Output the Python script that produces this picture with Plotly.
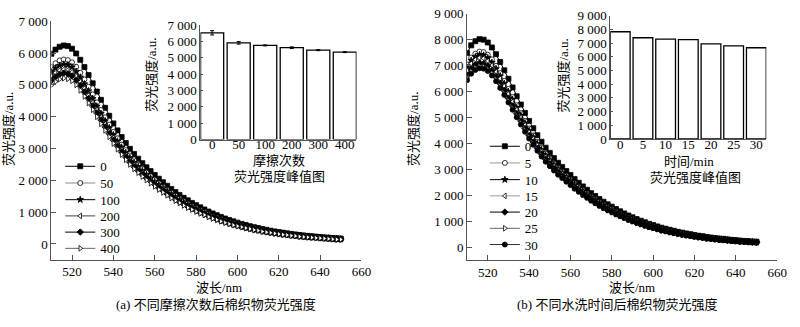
import plotly.graph_objects as go

# ---------------- data ----------------
wavelength = list(range(510, 652, 2))

# (a) rubbing cycles
rub_labels = ["0", "50", "100", "200", "300", "400"]
a_0 = [5980,6110,6200,6240,6220,6140,5990,5790,5560,5310,5050,4790,4530,4280,4030,3790,3570,3360,3170,2990,2830,2680,2540,2410,2290,2170,2050,1940,1830,1730,1630,1540,1450,1370,1290,1220,1150,1085,1020,960,905,850,800,755,710,670,630,595,560,528,498,470,443,418,394,372,352,333,315,298,282,267,253,240,228,217,206,196,187,178,170]
a_50 = [5560,5680,5770,5800,5780,5710,5570,5380,5170,4940,4700,4450,4210,3980,3750,3520,3320,3120,2950,2780,2630,2490,2360,2240,2130,2020,1910,1800,1700,1610,1520,1430,1350,1270,1200,1130,1070,1010,950,890,840,790,740,700,660,620,590,550,520,490,460,440,410,390,370,350,330,310,290,280,260,250,240,220,210,200,190,180,170,170,160]
a_100 = [5410,5530,5610,5650,5630,5560,5420,5240,5030,4810,4570,4330,4100,3870,3650,3430,3230,3040,2870,2710,2560,2430,2300,2180,2070,1960,1860,1760,1660,1570,1480,1390,1310,1240,1170,1100,1040,980,920,870,820,770,720,680,640,610,570,540,510,480,450,430,400,380,360,340,320,300,290,270,260,240,230,220,210,200,190,180,170,160,150]
a_200 = [5260,5380,5460,5490,5470,5400,5270,5100,4890,4670,4440,4220,3990,3770,3550,3340,3140,2960,2790,2630,2490,2360,2240,2120,2020,1910,1800,1710,1610,1520,1430,1360,1280,1210,1140,1070,1010,950,900,840,800,750,700,660,620,590,550,520,490,460,440,410,390,370,350,330,310,290,280,260,250,230,220,210,200,190,180,170,160,160,150]
a_300 = [5140,5250,5330,5370,5350,5280,5150,4980,4780,4570,4340,4120,3900,3680,3470,3260,3070,2890,2730,2570,2430,2300,2180,2070,1970,1870,1760,1670,1570,1490,1400,1320,1250,1180,1110,1050,990,930,880,830,780,730,690,650,610,580,540,510,480,450,430,400,380,360,340,320,300,290,270,260,240,230,220,210,200,190,180,170,160,150,150]
a_400 = [4990,5100,5180,5210,5190,5130,5000,4830,4640,4430,4220,4000,3780,3570,3370,3160,2980,2810,2650,2500,2360,2240,2120,2010,1910,1810,1710,1620,1530,1440,1360,1290,1210,1140,1080,1020,960,910,850,800,760,710,670,630,590,560,530,500,470,440,420,390,370,350,330,310,290,280,260,250,230,220,210,200,190,180,170,160,150,140,140]
a_series = [a_0, a_50, a_100, a_200, a_300, a_400]
rub_peak = [6530, 5920, 5760, 5620, 5470, 5350]
rub_err = [130, 80, 30, 50, 30, 30]

# (b) washing time
wash_labels = ["0", "5", "10", "15", "20", "25", "30"]
b_0 = [7490,7780,7940,8020,8000,7890,7700,7440,7140,6820,6490,6160,5820,5500,5180,4870,4590,4320,4070,3840,3640,3440,3260,3100,2940,2790,2630,2490,2350,2220,2090,1980,1860,1760,1660,1570,1480,1390,1310,1230,1160,1090,1030,970,910,860,810,760,720,680,640,600,570,540,510,480,450,430,400,380,360,340,330,310,290,280,260,250,240,230,220]
b_5 = [7040,7310,7460,7540,7520,7420,7240,6990,6710,6410,6100,5790,5470,5170,4870,4580,4310,4060,3830,3610,3420,3230,3060,2910,2760,2620,2470,2340,2210,2090,1960,1860,1750,1650,1560,1480,1390,1310,1230,1160,1090,1020,970,910,860,810,760,710,680,640,600,560,540,510,480,450,420,400,380,360,340,320,310,290,270,260,240,240,230,220,210]
b_10 = [6930,7200,7340,7420,7400,7300,7120,6880,6600,6310,6000,5700,5380,5090,4790,4500,4250,4000,3760,3550,3370,3180,3020,2870,2720,2580,2430,2300,2170,2050,1930,1830,1720,1630,1540,1450,1370,1290,1210,1140,1070,1010,950,900,840,800,750,700,670,630,590,560,530,500,470,440,420,400,370,350,330,320,300,290,270,260,240,230,220,210,200]
b_15 = [6820,7080,7230,7300,7280,7180,7010,6770,6500,6210,5910,5610,5300,5000,4710,4430,4180,3930,3700,3490,3310,3130,2970,2820,2680,2540,2390,2270,2140,2020,1900,1800,1690,1600,1510,1430,1350,1260,1190,1120,1060,990,940,880,830,780,740,690,660,620,580,550,520,490,460,440,410,390,360,350,330,310,300,280,260,250,240,230,220,210,200]
b_20 = [6630,6890,7030,7100,7080,6980,6810,6580,6320,6040,5740,5450,5150,4870,4580,4310,4060,3820,3600,3400,3220,3040,2890,2740,2600,2470,2330,2200,2080,1960,1850,1750,1650,1560,1470,1390,1310,1230,1160,1090,1030,960,910,860,810,760,720,670,640,600,570,530,500,480,450,420,400,380,350,340,320,300,290,270,260,250,230,220,210,200,190]
b_25 = [6520,6770,6910,6980,6960,6860,6700,6470,6210,5930,5650,5360,5060,4790,4510,4240,3990,3760,3540,3340,3170,2990,2840,2700,2560,2430,2290,2170,2040,1930,1820,1720,1620,1530,1440,1370,1290,1210,1140,1070,1010,950,900,840,790,750,700,660,630,590,560,520,500,470,440,420,390,370,350,330,310,300,290,270,250,240,230,220,210,200,190]
b_30 = [6440,6690,6830,6900,6880,6790,6620,6400,6140,5870,5580,5300,5010,4730,4450,4190,3950,3720,3500,3300,3130,2960,2800,2670,2530,2400,2260,2140,2020,1910,1800,1700,1600,1510,1430,1350,1270,1200,1130,1060,1000,940,890,830,780,740,700,650,620,580,550,520,490,460,440,410,390,370,340,330,310,290,280,270,250,240,220,220,210,200,190]
b_series = [b_0, b_5, b_10, b_15, b_20, b_25, b_30]
wash_peak = [7840, 7400, 7300, 7260, 6950, 6810, 6670]

# ---------------- styles ----------------
FONT = "Liberation Serif, Noto Sans CJK SC, serif"
AXC = "#555555"
a_styles = [
    dict(symbol="square", fill="black", lc="black"),
    dict(symbol="circle", fill="white", lc="#888888"),
    dict(symbol="star", fill="black", lc="black"),
    dict(symbol="triangle-left", fill="white", lc="#444444"),
    dict(symbol="diamond", fill="black", lc="black"),
    dict(symbol="triangle-right", fill="white", lc="#666666"),
]
b_styles = [
    dict(symbol="square", fill="black", lc="black"),
    dict(symbol="circle", fill="white", lc="#999999"),
    dict(symbol="star", fill="black", lc="black"),
    dict(symbol="triangle-left", fill="white", lc="#999999"),
    dict(symbol="diamond", fill="black", lc="black"),
    dict(symbol="triangle-right", fill="white", lc="#666666"),
    dict(symbol="circle", fill="black", lc="#333333"),
]
# legend entry centre rows (px from top)
a_leg_y = [167, 184.5, 202, 219, 236, 253]
b_leg_y = [146, 163.5, 181, 198, 215, 232, 249]
A_LEG_X = 61
B_LEG_X = 491

H = 327.0
W = 800.0
def py(p):
    return 1 - p / H
def px(p):
    return p / W

fig = go.Figure()
legends = {}
k = 1
for name, ys, st, ly in zip(rub_labels, a_series, a_styles, a_leg_y):
    lname = "legend" if k == 1 else "legend%d" % k
    legends[lname] = dict(x=px(A_LEG_X), y=py(ly), xanchor="left", yanchor="middle",
                          bgcolor="rgba(0,0,0,0)", font=dict(family=FONT, size=13),
                          itemwidth=30)
    fig.add_trace(go.Scatter(
        x=wavelength, y=ys, name=name, mode="lines+markers",
        line=dict(color=st["lc"], width=1),
        marker=dict(symbol=st["symbol"], size=5, color=st["fill"],
                    line=dict(color="black", width=0.8)),
        xaxis="x", yaxis="y", legend=lname))
    k += 1

for name, ys, st, ly in zip(wash_labels, b_series, b_styles, b_leg_y):
    lname = "legend%d" % k
    legends[lname] = dict(x=px(B_LEG_X), y=py(ly), xanchor="left", yanchor="middle",
                          bgcolor="rgba(0,0,0,0)", font=dict(family=FONT, size=13),
                          itemwidth=30)
    fig.add_trace(go.Scatter(
        x=wavelength, y=ys, name=name, mode="lines+markers",
        line=dict(color=st["lc"], width=1),
        marker=dict(symbol=st["symbol"], size=5, color=st["fill"],
                    line=dict(color="black", width=0.8)),
        xaxis="x2", yaxis="y2", legend=lname))
    k += 1

fig.add_trace(go.Bar(
    x=rub_labels, y=rub_peak, showlegend=False,
    marker=dict(color="white", line=dict(color="black", width=1.3)),
    error_y=dict(type="data", array=rub_err, color="black", thickness=1, width=2),
    xaxis="x3", yaxis="y3"))
fig.add_trace(go.Bar(
    x=wash_labels, y=wash_peak, showlegend=False,
    marker=dict(color="white", line=dict(color="black", width=1.3)),
    xaxis="x4", yaxis="y4"))

main_ax = dict(showline=True, linecolor=AXC, linewidth=1, ticks="inside",
               ticklen=5, tickcolor=AXC, showgrid=False, zeroline=False,
               tickfont=dict(family=FONT, size=13, color="black"))
inset_ax = dict(showline=True, linecolor=AXC, linewidth=1, showgrid=False,
                zeroline=False, tickfont=dict(family=FONT, size=13, color="black"))

fig.update_layout(
    width=800, height=327, margin=dict(l=0, r=0, t=0, b=0),
    paper_bgcolor="white", plot_bgcolor="rgba(0,0,0,0)",
    separators=". ",
    bargap=0.13,
    font=dict(family=FONT, size=13, color="black"),
    xaxis=dict(main_ax, domain=[px(52), px(366)], range=[510, 660], dtick=20,
               anchor="y"),
    yaxis=dict(main_ax, domain=[py(265), py(15)], range=[-500, 7000],
               tickvals=list(range(0, 7001, 1000)), tickformat=",", anchor="x"),
    xaxis2=dict(main_ax, domain=[px(473), px(787)], range=[510, 660], dtick=20,
                anchor="y2"),
    yaxis2=dict(main_ax, domain=[py(265.6), py(7)], range=[-500, 9000],
                tickvals=list(range(0, 9001, 1000)), tickformat=",", anchor="x2"),
    xaxis3=dict(inset_ax, domain=[px(203), px(361)], range=[-0.44, 5.44],
                ticks="", ticklabelstandoff=-7, anchor="y3"),
    yaxis3=dict(inset_ax, domain=[py(139), py(19)], range=[0, 7000],
                tickvals=list(range(0, 7001, 1000)), tickformat=",",
                ticks="inside", ticklen=3, tickcolor=AXC, anchor="x3"),
    xaxis4=dict(inset_ax, domain=[px(618), px(776)], range=[-0.44, 6.44],
                ticks="", ticklabelstandoff=-7, anchor="y4"),
    yaxis4=dict(inset_ax, domain=[py(138.3), py(9.3)], range=[0, 9000],
                tickvals=list(range(0, 9001, 1000)), tickformat=",",
                ticks="inside", ticklen=3, tickcolor=AXC, anchor="x4"),
    **legends,
)

ann = [
    ("荧光强度/a.u.", 8, 128, -90),
    ("荧光强度/a.u.", 418, 128, -90),
    ("荧光强度/a.u.", 154, 71, -90),
    ("荧光强度/a.u.", 571, 72, -90),
    ("摩擦次数", 283, 161, 0),
    ("荧光强度峰值图", 283, 178, 0),
    ("时间/min", 698, 162, 0),
    ("荧光强度峰值图", 704, 179, 0),
    ("波长/nm", 222, 294, 0),
    ("波长/nm", 640, 294, 0),
    ("(a) 不同摩擦次数后棉织物荧光强度", 219, 312, 0),
    ("(b) 不同水洗时间后棉织物荧光强度", 625, 312, 0),
]
for text, ax_, ay_, ang in ann:
    fig.add_annotation(text=text, x=px(ax_), y=py(ay_), xref="paper", yref="paper",
                       showarrow=False, textangle=ang, xanchor="center",
                       yanchor="middle", font=dict(family=FONT, size=13, color="black"))

fig.write_html("out.html")
